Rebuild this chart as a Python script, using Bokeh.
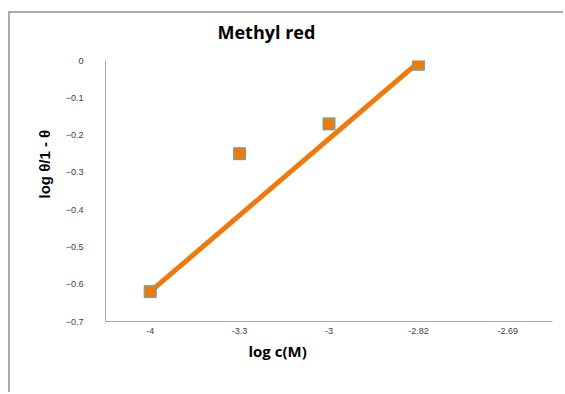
from bokeh.plotting import figure
from bokeh.models import FixedTicker, Title
from bokeh.embed import file_html
from bokeh.resources import INLINE

categories = ["-4", "-3.3", "-3", "-2.82", "-2.69"]
point_x = ["-4", "-3.3", "-3", "-2.82"]
point_y = [-0.62, -0.25, -0.17, -0.01]
line_x = ["-4", "-2.82"]
line_y = [-0.62, -0.005]
y_ticks = [0, -0.1, -0.2, -0.3, -0.4, -0.5, -0.6, -0.7]

ORANGE = "#EE7A0C"

p = figure(width=555, height=381, x_range=categories, y_range=(-0.7, 0),
           output_backend="svg", toolbar_location=None,
           min_border_left=95, min_border_right=13, min_border_top=47, min_border_bottom=73,
           margin=(11, 0, 0, 8))
p.styles = {"border-left": "2px solid #ABABAB", "border-top": "2px solid #ABABAB"}
p.outline_line_color = None
p.grid.grid_line_color = None

p.line(line_x, line_y, line_color=ORANGE, line_width=5)
p.scatter(point_x, point_y, marker="square", size=12, fill_color=ORANGE,
          line_color="#4BACC6", line_width=1)

p.yaxis.ticker = FixedTicker(ticks=y_ticks)
p.yaxis.major_tick_line_color = None
p.yaxis.minor_tick_line_color = None
p.yaxis.major_tick_out = 0
p.yaxis.axis_line_color = "#A6A6A6"
p.yaxis.major_label_standoff = 22
p.yaxis.major_label_text_font = "Liberation Sans"
p.yaxis.major_label_text_font_size = "9px"
p.yaxis.major_label_text_color = "#404040"

p.xaxis.major_tick_line_color = None
p.xaxis.major_tick_out = 0
p.xaxis.axis_line_color = "#A6A6A6"
p.xaxis.major_label_standoff = 6
p.xaxis.major_label_text_font = "Liberation Sans"
p.xaxis.major_label_text_font_size = "9px"
p.xaxis.major_label_text_color = "#404040"

# spacer between frame and the title
p.add_layout(Title(text=" ", text_font_size="1px", standoff=14), "above")

p.title.text = "Methyl red"
p.title.align = "left"
p.title.offset = 112
p.title.standoff = 0
p.title.text_font = "Open Sans"
p.title.text_font_style = "bold"
p.title.text_font_size = "18px"
p.title.text_color = "#000000"

p.add_layout(Title(text="log c(M)", align="left", offset=143, standoff=4,
                   text_font="Open Sans", text_font_style="bold", text_font_size="15px",
                   text_color="#000000"), "below")
p.add_layout(Title(text="log θ/1 - θ", align="left", offset=123, standoff=20,
                   text_font="Liberation Sans", text_font_style="bold", text_font_size="15px",
                   text_color="#000000"), "left")

open("out.html", "w").write(file_html(p, INLINE))
